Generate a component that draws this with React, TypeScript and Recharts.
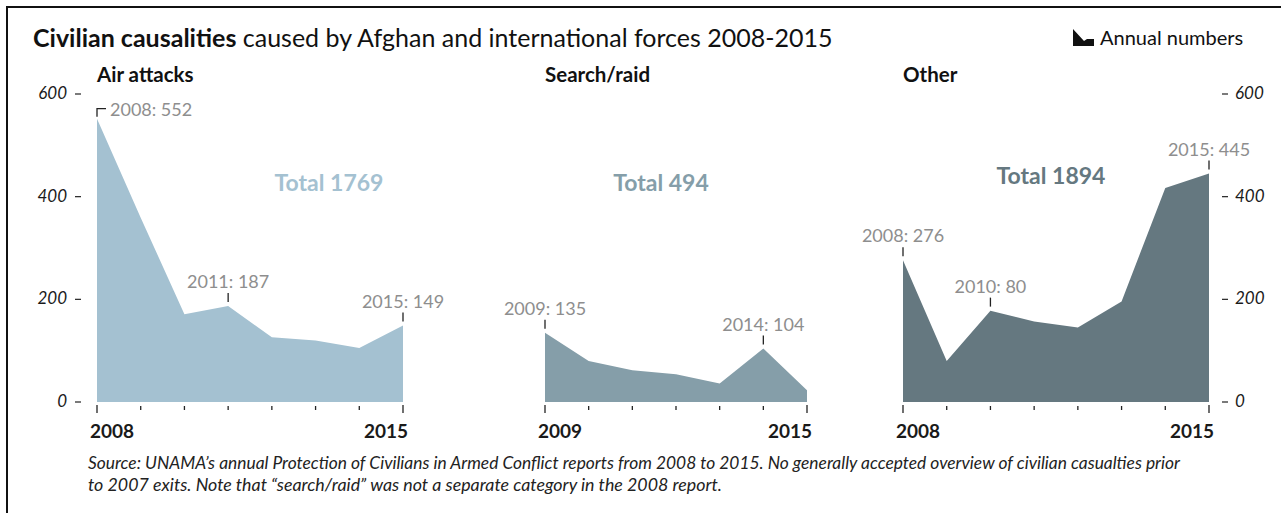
import React from "react";
import { AreaChart, Area, XAxis, YAxis, LabelList } from "recharts";

// annual civilian casualties (UNAMA)
const years = [2008, 2009, 2010, 2011, 2012, 2013, 2014, 2015];
const searchYears = [2009, 2010, 2011, 2012, 2013, 2014, 2015];
const airAttacks = [552, 359, 171, 187, 126, 120, 105, 149];
const searchRaid = [135, 80, 62, 54, 36, 104, 23];
const other = [276, 80, 178, 157, 145, 196, 417, 445];

const airNotes = ["2008: 552", "", "", "2011: 187", "", "", "", "2015: 149"];
const searchNotes = ["2009: 135", "", "", "", "", "2014: 104", ""];
const otherNotes = ["2008: 276", "", "2010: 80", "", "", "", "", "2015: 445"];

const yTicks = [0, 200, 400, 600];
const panelTitles = ["Air attacks", "Search/raid", "Other"];
const totals = ["Total 1769", "Total 494", "Total 1894"];
const colors = ["#a4c1d1", "#859ea9", "#657880"];

const W = 1281;
const H = 513;
const TOP = 94;
const BOTTOM = 402;
const FONT = "Lato, 'Noto Sans', sans-serif";

const XTick = (p: any) => {
  const v = p.payload.value;
  const first = p.first;
  const last = p.last;
  const end = v === first || v === last;
  return (
    <g>
      <line x1={p.x} x2={p.x} y1={p.y + (end ? 3 : 4)} y2={p.y + (end ? 11 : 8)} stroke="#222" strokeWidth={1.3} />
      {end && (
        <text
          x={v === first ? p.x - 7 : p.x + 5}
          y={p.y + 36}
          textAnchor={v === first ? "start" : "end"}
          fontFamily={FONT}
          fontWeight={700}
          fontSize={19}
          fill="#1a1a1a"
        >
          {v}
        </text>
      )}
    </g>
  );
};

const YTick = (p: any) => {
  const left = p.side === "left";
  const s = left ? -1 : 1;
  return (
    <g>
      <line x1={p.x + s * (left ? 16 : 13)} x2={p.x + s * (left ? 22 : 19)} y1={p.y} y2={p.y} stroke="#222" strokeWidth={1.2} />
      <text
        x={p.x + s * (left ? 30 : 26)}
        y={p.y + 5}
        textAnchor={left ? "end" : "start"}
        fontFamily={FONT}
        fontStyle="italic"
        fontSize={17}
        fill="#1a1a1a"
      >
        {p.payload.value}
      </text>
    </g>
  );
};

const note = (p: any) => {
  const x = p.x ?? p.viewBox?.x;
  const y = p.y ?? p.viewBox?.y;
  const v = p.value;
  if (!v) return null;
  if (v === "2008: 552") {
    // bracket style for the top-left peak
    return (
      <g>
        <polyline points={`${x},${y - 2} ${x},${y - 10} ${x + 9},${y - 10}`} fill="none" stroke="#222" strokeWidth={1.3} />
        <text x={x + 13} y={y - 3} fontFamily={FONT} fontSize={18} fill="#8e8e8e">{v}</text>
      </g>
    );
  }
  return (
    <g>
      <line x1={x} x2={x} y1={y - 13} y2={y - 4} stroke="#222" strokeWidth={1.3} />
      <text x={x} y={y - 18} textAnchor="middle" fontFamily={FONT} fontSize={18} fill="#8e8e8e">{v}</text>
    </g>
  );
};

function Panel({ left, right, xs, values, notes, color, axis }: any) {
  const pad = 70;
  const data = xs.map((yr: number, i: number) => ({ year: yr, value: values[i], note: notes[i] }));
  const first = xs[0];
  const last = xs[xs.length - 1];
  return (
    <div style={{ position: "absolute", left: left - pad, top: 0 }}>
      <AreaChart
        width={right - left + pad * 2}
        height={H}
        data={data}
        margin={{
          top: TOP,
          bottom: H - BOTTOM - 1,
          left: axis === "left" ? pad - 1 : pad,
          right: axis === "right" ? pad - 1 : pad,
        }}
      >
        <XAxis
          dataKey="year"
          type="number"
          domain={[first, last]}
          ticks={xs}
          interval={0}
          height={1}
          tickSize={0}
          tickMargin={0}
          axisLine={false}
          tickLine={false}
          tick={<XTick first={first} last={last} />}
        />
        {axis ? (
          <YAxis
            domain={[0, 600]}
            ticks={yTicks}
            interval={0}
            width={1}
            orientation={axis}
            tickSize={0}
            tickMargin={0}
            axisLine={false}
            tickLine={false}
            tick={<YTick side={axis} />}
          />
        ) : (
          <YAxis domain={[0, 600]} hide />
        )}
        <Area
          type="linear"
          dataKey="value"
          stroke="none"
          fill={color}
          fillOpacity={1}
          isAnimationActive={false}
        >
          <LabelList dataKey="note" content={note} />
        </Area>
      </AreaChart>
    </div>
  );
}

export default function App() {
  return (
    <div style={{ position: "absolute", left: 0, top: 0, width: W, height: H, background: "#fff", fontFamily: FONT }}>
      <svg width={W} height={H} style={{ position: "absolute", left: 0, top: 0 }}>
        <polyline points={`7,${H} 7,7 ${W},7`} fill="none" stroke="#111" strokeWidth={2} />
        <text x={33} y={47} fontFamily={FONT} fontSize={25} fill="#111">
          <tspan fontWeight={700}>Civilian causalities</tspan>
          <tspan> caused by Afghan and international forces 2008-2015</tspan>
        </text>
        <path d="M1073,29 L1073,46 L1094,46 L1094,39 L1087,39 L1084,41 Z" fill="#111" />
        <text x={1100} y={45} fontFamily={FONT} fontSize={20} fill="#111">Annual numbers</text>
        {panelTitles.map((t, i) => (
          <text key={t} x={[97, 545, 903][i]} y={82} fontFamily={FONT} fontWeight={700} fontSize={20.5} fill="#111">{t}</text>
        ))}
        {totals.map((t, i) => (
          <text key={t} x={[329, 661, 1051][i]} y={[191, 191, 184][i]} textAnchor="middle" fontFamily={FONT} fontWeight={700} fontSize={23} fill={colors[i]}>{t}</text>
        ))}
        <text x={88} y={469} fontFamily={FONT} fontStyle="italic" fontSize={16.5} fill="#222" textLength={1092} lengthAdjust="spacingAndGlyphs">
          Source: UNAMA’s annual Protection of Civilians in Armed Conflict reports from 2008 to 2015. No generally accepted overview of civilian casualties prior
        </text>
        <text x={88} y={491} fontFamily={FONT} fontStyle="italic" fontSize={16.5} fill="#222" textLength={634} lengthAdjust="spacingAndGlyphs">
          to 2007 exits. Note that “search/raid” was not a separate category in the 2008 report.
        </text>
      </svg>
      <Panel left={97} right={403} xs={years} values={airAttacks} notes={airNotes} color={colors[0]} axis="left" />
      <Panel left={545} right={807} xs={searchYears} values={searchRaid} notes={searchNotes} color={colors[1]} axis={null} />
      <Panel left={903} right={1209} xs={years} values={other} notes={otherNotes} color={colors[2]} axis="right" />
    </div>
  );
}
